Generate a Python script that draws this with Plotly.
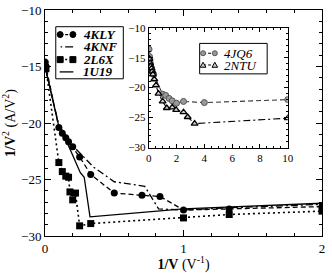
import plotly.graph_objects as go

# ---- main panel data ----
kly_x = [0.0, 0.007, 0.10, 0.125, 0.15, 0.17, 0.20, 0.25, 0.33, 0.50, 0.70, 0.83, 1.0, 1.33, 2.0]
kly_y = [-14.6, -15.0, -20.4, -20.9, -21.3, -21.65, -22.1, -23.0, -24.55, -26.2, -26.4, -26.5, -27.7, -27.6, -27.4]

knf_x = [0.0, 0.10, 0.20, 0.35, 0.50, 0.72, 0.82, 1.0, 1.33, 2.0]
knf_y = [-15.0, -20.2, -22.0, -23.9, -25.2, -25.6, -27.6, -27.7, -27.5, -27.2]

l6x_x = [0.0, 0.007, 0.10, 0.125, 0.15, 0.17, 0.18, 0.20, 0.22, 0.25, 0.33, 1.0, 1.33, 2.0]
l6x_y = [-14.8, -15.2, -23.5, -24.3, -24.7, -24.8, -26.1, -26.8, -26.2, -29.1, -28.9, -28.4, -28.1, -27.8]

u19_x = [0.0, 0.10, 0.13, 0.255, 0.283, 0.325, 1.0, 2.0]
u19_y = [-15.0, -20.3, -20.9, -24.4, -24.8, -28.3, -27.6, -27.1]

# ---- inset data ----
jq6_x = [0.02, 0.05, 0.08, 0.10, 0.12, 0.15, 0.18, 0.20, 0.25, 0.30, 0.35, 1.0, 1.22, 1.46, 1.69, 2.0, 2.5, 4.0, 10.0]
jq6_y = [-13.6, -14.8, -15.3, -15.8, -16.2, -16.5, -16.8, -17.0, -17.3, -17.6, -17.8, -21.1, -21.3, -21.8, -22.2, -22.6, -22.3, -22.5, -22.0]

ntu_x = [0.05, 0.10, 0.15, 0.20, 0.25, 0.30, 0.40, 0.52, 0.70, 1.0, 1.3, 1.69, 1.97, 2.5, 2.8, 3.3, 10.0]
ntu_y = [-15.2, -15.9, -16.4, -16.8, -17.3, -17.8, -18.6, -19.6, -21.0, -22.3, -23.4, -23.3, -23.7, -24.1, -24.9, -26.0, -25.1]

main_names = ["4KLY", "4KNF", "2L6X", "1U19"]
inset_names = ["4JQ6", "2NTU"]

FONT = "Liberation Serif, Times New Roman, serif"

# plot-area geometry (page pixels) used to place the hand-drawn legends
L, R, T, B = 45, 328, 6, 236


def px(x):
    return (x - L) / (R - L)


def py(y):
    return (B - y) / (B - T)


DASH = "5px,3px"
DASHDOT = "7px,3px,2px,3px"
DOT = "2px,3px"

fig = go.Figure()
fig.add_trace(go.Scatter(x=kly_x, y=kly_y, name=main_names[0], mode="lines+markers",
                         line=dict(color="black", width=1.3, dash=DASH),
                         marker=dict(symbol="circle", size=7, color="black")))
fig.add_trace(go.Scatter(x=knf_x, y=knf_y, name=main_names[1], mode="lines",
                         line=dict(color="black", width=1.3, dash=DASHDOT)))
fig.add_trace(go.Scatter(x=l6x_x, y=l6x_y, name=main_names[2], mode="lines+markers",
                         line=dict(color="black", width=1.6, dash=DOT),
                         marker=dict(symbol="square", size=7, color="black")))
fig.add_trace(go.Scatter(x=u19_x, y=u19_y, name=main_names[3], mode="lines",
                         line=dict(color="black", width=1.3)))

fig.add_trace(go.Scatter(x=jq6_x, y=jq6_y, name=inset_names[0], mode="lines+markers",
                         xaxis="x2", yaxis="y2",
                         line=dict(color="#333333", width=1.1, dash=DASH),
                         marker=dict(symbol="circle", size=6, color="#999999",
                                     line=dict(color="#555555", width=1))))
fig.add_trace(go.Scatter(x=ntu_x, y=ntu_y, name=inset_names[1], mode="lines+markers",
                         xaxis="x2", yaxis="y2",
                         line=dict(color="black", width=1.1, dash=DASHDOT),
                         marker=dict(symbol="triangle-up", size=6, color="#cccccc",
                                     line=dict(color="black", width=1.3))))

ax_common = dict(showline=True, linecolor="black", linewidth=1, mirror="ticks",
                 ticks="inside", tickcolor="black", showgrid=False, zeroline=False)

shapes = []
annotations = []


def box(x0, x1, y0, y1):
    shapes.append(dict(type="rect", xref="paper", yref="paper", layer="above",
                       x0=px(x0), x1=px(x1), y0=py(y1), y1=py(y0),
                       line=dict(color="black", width=1), fillcolor="white"))


def seg(x0, x1, y, dash, width=1.3, color="black"):
    shapes.append(dict(type="line", xref="paper", yref="paper", layer="above",
                       x0=px(x0), x1=px(x1), y0=py(y), y1=py(y),
                       line=dict(color=color, width=width, dash=dash)))


def mark(cx, cy, kind, r=3, fill="black", edge="black"):
    base = dict(xref="paper", yref="paper", layer="above", xsizemode="pixel", ysizemode="pixel",
                xanchor=px(cx), yanchor=py(cy), fillcolor=fill, line=dict(color=edge, width=1))
    if kind == "circle":
        shapes.append(dict(type="circle", x0=-r, x1=r, y0=-r, y1=r, **base))
    elif kind == "square":
        shapes.append(dict(type="rect", x0=-r, x1=r, y0=-r, y1=r, **base))
    else:
        shapes.append(dict(type="path", path=f"M {-r},{-r*0.8} L {r},{-r*0.8} L 0,{r} Z", **base))


def label(x, y, text):
    annotations.append(dict(xref="paper", yref="paper", x=px(x), y=py(y), xanchor="left",
                            yanchor="middle", showarrow=False, text=text, borderpad=0,
                            font=dict(family=FONT, size=13, color="black")))


# main legend
box(56, 125, 23, 76)
rows = [31, 43.5, 56.5, 69]
seg(60.5, 73.5, rows[0], "3px,2px")
mark(60.5, rows[0], "circle")
mark(73.5, rows[0], "circle")
seg(61, 74, rows[1], "1.5px,3px,8px,20px")
seg(60.5, 73.5, rows[2], "2px,3px", width=1.5)
mark(60.5, rows[2], "square")
mark(73.5, rows[2], "square")
seg(60, 74, rows[3], "solid")
for r_, n in zip(rows, main_names):
    label(83, r_, f"<b><i>{n}</i></b>")

# inset legend
box(203, 272, 40, 71)
irows = [50, 62]
seg(206.5, 218.5, irows[0], "3px,2px", width=1.1)
mark(206.5, irows[0], "circle", r=2.5, fill="#999999", edge="#555555")
mark(218.5, irows[0], "circle", r=2.5, fill="#999999", edge="#555555")
seg(206.5, 218.5, irows[1], "3px,2px", width=1.1)
mark(206.5, irows[1], "tri", r=2.8, fill="#cccccc")
mark(218.5, irows[1], "tri", r=2.8, fill="#cccccc")
for r_, n in zip(irows, inset_names):
    label(227, r_, f"<i>{n}</i>")

fig.update_layout(
    width=332, height=273,
    margin=dict(l=L, r=332 - R, t=T, b=273 - B),
    paper_bgcolor="white", plot_bgcolor="white",
    font=dict(family=FONT, size=13, color="black"),
    showlegend=False,
    shapes=shapes, annotations=annotations,
    xaxis=dict(range=[0, 2], tickvals=[0, 1, 2], ticklen=6,
               minor=dict(dtick=0.2, ticks="inside", ticklen=3, tickcolor="black"),
               title=dict(text="<b>1/V</b> (V<sup>-1</sup>)", font=dict(size=14), standoff=4),
               **ax_common),
    yaxis=dict(range=[-30, -10], tickvals=[-30, -25, -20, -15, -10], ticklen=6,
               minor=dict(dtick=1, ticks="inside", ticklen=3, tickcolor="black"),
               title=dict(text="<b>1/V</b><sup>2</sup> (A/V<sup>2</sup>)", font=dict(size=14), standoff=2),
               **ax_common),
    xaxis2=dict(domain=[px(151), px(293)], anchor="y2", range=[0, 10], tickvals=[0, 2, 4, 6, 8, 10],
                ticklen=4, tickfont=dict(size=11),
                minor=dict(dtick=0.5, ticks="inside", ticklen=2, tickcolor="black"),
                **ax_common),
    yaxis2=dict(domain=[py(146), py(24)], anchor="x2", range=[-30, -10], tickvals=[-30, -25, -20, -15, -10],
                ticklen=4, tickfont=dict(size=11),
                minor=dict(dtick=1, ticks="inside", ticklen=2, tickcolor="black"),
                **ax_common),
)

fig.write_html("out.html", config={"displayModeBar": False},
               post_script="document.body.style.margin='0px';")
